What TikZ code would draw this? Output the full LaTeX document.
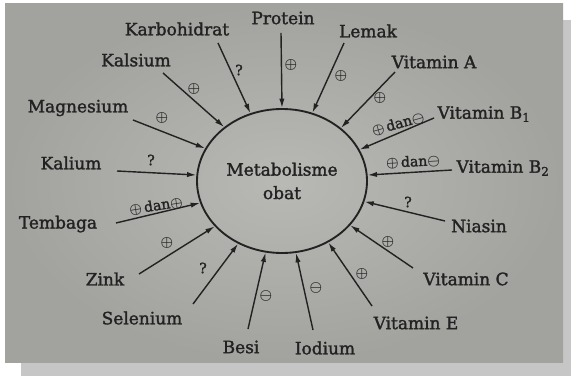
\documentclass[tikz,border=0pt]{standalone}
\usepackage{fontspec}
\setmainfont{DejaVu Serif}[FakeBold=1.6]
\usetikzlibrary{arrows.meta,shapes.geometric}
\definecolor{ink}{HTML}{222222}
\definecolor{paper}{HTML}{B8B8B5}
\definecolor{paperedge}{HTML}{A2A29F}
\definecolor{shadow}{HTML}{C6C6C6}
\tikzset{
  lbl/.style={text=ink,font=\fontsize{14.5}{20}\selectfont,inner sep=0pt},
  sgn/.style={text=ink,font=\fontsize{12}{13}\selectfont\boldmath,inner sep=0pt},
  arr/.style={draw=ink,line width=1.2pt,-{Latex[length=8pt,width=4.5pt]}},
}
\begin{document}
\begin{tikzpicture}[x=0.03cm,y=-0.03cm]
  \useasboundingbox (0,0) rectangle (571,376);
  \fill[shadow] (21,20) rectangle (571,376);
  \shade[inner color=paper,outer color=paperedge] (5,4) rectangle (563,362);
  \node[draw=ink,line width=1.6pt,ellipse,minimum width=5.1cm,minimum height=4.32cm,
        inner sep=0pt,lbl,align=center] (met) at (282,181) {Metabolisme\\obat};
  \foreach \n/\x/\y/\t in {pr/283/18/Protein,kh/177/29/Karbohidrat,lm/368/31/Lemak,
      ks/136/60/Kalsium,va/434/62/Vitamin A,vb/484/114/Vitamin B\textsubscript{1},
      vbb/503/168/Vitamin B\textsubscript{2},mg/78/108/Magnesium,kl/71/163/Kalium,
      tb/58/224/Tembaga,zk/105/279/Zink,se/142/318/Selenium,bs/241/347/Besi,
      io/325/348/Iodium,ve/416/323/Vitamin E,vc/466/279/Vitamin C,ni/479/226/Niasin}{
    \node[lbl] (\n) at (\x,\y) {\t};
  }
  \foreach \n/\x/\y/\a in {pr/281/33/90,kh/218/43/115,lm/344/43/66,ks/163/73/137.6,
      va/395/72/42,vb/434/118/22,vbb/452/170/4.8,mg/133/120/157.8,kl/117/171/176.6,
      tb/116/223/195.7,zk/139/274/214.5,se/193/304/235.5,bs/248/329/257.6,
      io/313/330/281.6,ve/372/306/307.7,vc/413/268/327.5,ni/445/221/346}{
    \coordinate (\n-t) at (\x,\y);
    \draw[arr] (\n-t) -- (met.\a);
  }
  \foreach \n/\x/\y/\r/\s in {pr/291/65/0/$\oplus$,kh/239/70/0/?,lm/341/76/0/$\oplus$,
      ks/194/89/0/$\oplus$,va/380/98/0/$\oplus$,vb/398/124/16/$\oplus$\,dan$\ominus$,
      vbb/413/162/3/$\oplus$\,dan$\ominus$,mg/162/118/0/$\oplus$,kl/151/160/0/?,
      tb/156/206/9/$\oplus$\,dan$\oplus$,zk/167/243/0/$\oplus$,se/203/268/0/?,
      bs/266/296/0/$\ominus$,io/316/288/0/$\ominus$,ve/362/274/0/$\oplus$,
      vc/388/242/0/$\oplus$,ni/408/202/0/?}{
    \node[sgn,rotate=\r] (\n-s) at (\x,\y) {\s};
  }
\end{tikzpicture}
\end{document}
